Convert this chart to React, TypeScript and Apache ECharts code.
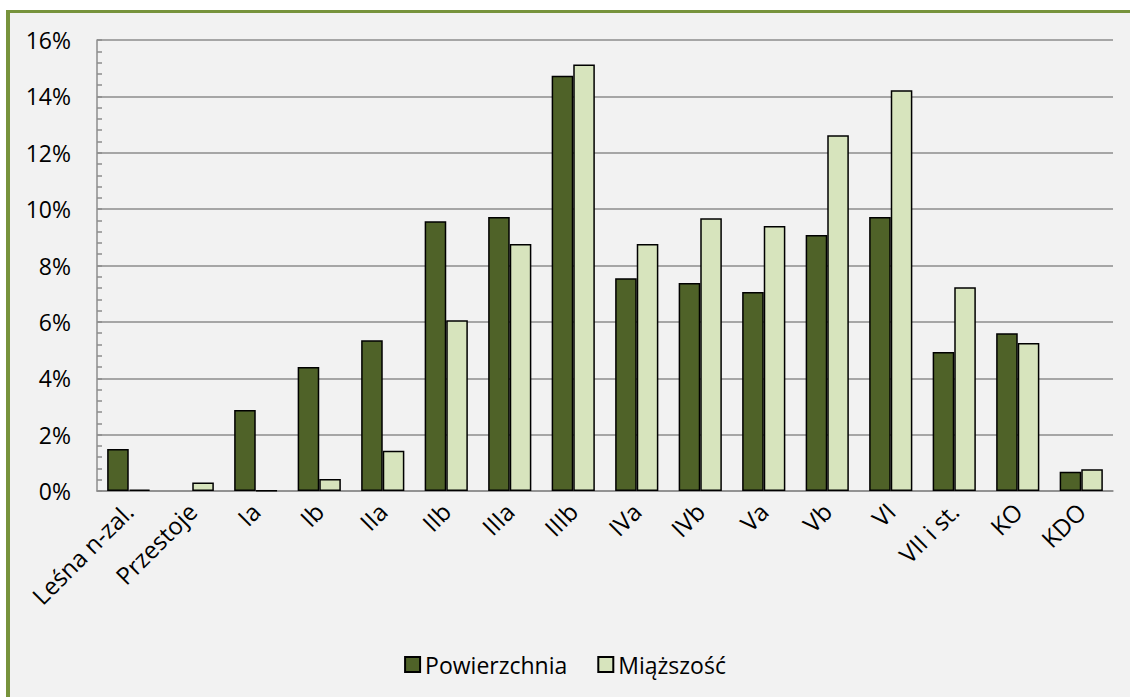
import React, { useEffect, useRef } from "react";
import * as echarts from "echarts";

const categories = [
  "Leśna n-zal.", "Przestoje", "Ia", "Ib", "IIa", "IIb", "IIIa", "IIIb",
  "IVa", "IVb", "Va", "Vb", "VI", "VII i st.", "KO", "KDO",
];
const powierzchnia = [1.49, 0, 2.87, 4.4, 5.35, 9.57, 9.72, 14.73, 7.55, 7.38, 7.06, 9.08, 9.72, 4.93, 5.6, 0.68];
const miazszosc = [0.05, 0.3, 0.02, 0.43, 1.43, 6.06, 8.76, 15.13, 8.76, 9.68, 9.4, 12.62, 14.22, 7.23, 5.25, 0.77];
const seriesNames = ["Powierzchnia", "Miąższość"];

export default function App() {
  const ref = useRef<HTMLDivElement>(null);
  useEffect(() => {
    if (!ref.current) return;
    const chart = echarts.init(ref.current, null, { renderer: "svg" });
    const font = "'Open Sans', Lato, sans-serif";
    const toData = (arr: number[]) => arr.map((v) => (v === 0 ? null : v));
    chart.setOption({
      animation: false,
      backgroundColor: "transparent",
      textStyle: { fontFamily: font },
      grid: { left: 97, right: 17, top: 40, bottom: 206, containLabel: false },
      legend: {
        top: 648,
        left: "center",
        itemWidth: 15,
        itemHeight: 15,
        itemGap: 30,
        icon: "rect",
        textStyle: { fontSize: 23, color: "#000", fontFamily: font },
        data: seriesNames,
      },
      xAxis: {
        type: "category",
        data: categories,
        axisLine: { lineStyle: { color: "#8c8c8c", width: 1.5 } },
        axisTick: { show: false },
        axisLabel: { rotate: 45, fontSize: 24, color: "#000", margin: 16, interval: 0, fontFamily: font },
      },
      yAxis: {
        type: "value",
        min: 0,
        max: 16,
        interval: 2,
        axisLine: { show: true, lineStyle: { color: "#8c8c8c", width: 1.5 } },
        axisTick: { show: true, inside: true, length: 5, lineStyle: { color: "#8c8c8c", width: 1.5 } },
        minorTick: { show: true, splitNumber: 5, length: 5, lineStyle: { color: "#8c8c8c", width: 1.5 } },
        splitLine: { lineStyle: { color: "#8c8c8c", width: 1.5 } },
        axisLabel: { formatter: "{value}%", fontSize: 23, color: "#000", margin: 26, fontFamily: font },
      },
      series: [
        {
          name: seriesNames[0],
          type: "bar",
          data: toData(powierzchnia),
          barGap: "0%",
          barCategoryGap: "32%",
          itemStyle: { color: "#4F6228", borderColor: "#000", borderWidth: 1.5 },
        },
        {
          name: seriesNames[1],
          type: "bar",
          data: toData(miazszosc),
          barGap: "0%",
          barCategoryGap: "32%",
          itemStyle: { color: "#D7E4BD", borderColor: "#000", borderWidth: 1.5 },
        },
      ],
    });
    return () => chart.dispose();
  }, []);
  return (
    <div style={{ position: "fixed", left: 0, top: 0, width: 1130, height: 697, background: "#fff", overflow: "hidden" }}>
      <div
        style={{
          position: "absolute",
          left: 6,
          top: 10,
          width: 1300,
          height: 900,
          borderLeft: "4px solid #77933C",
          borderTop: "3px solid #77933C",
          background: "#F2F2F2",
        }}
      />
      <div ref={ref} style={{ position: "absolute", left: 0, top: 0, width: 1130, height: 697 }} />
    </div>
  );
}
